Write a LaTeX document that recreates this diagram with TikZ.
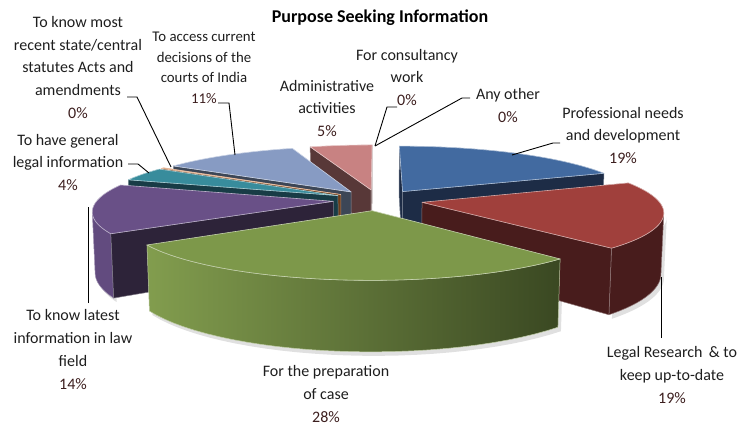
\documentclass[tikz,border=0pt]{standalone}
\usepackage{fontspec}
\setmainfont{Carlito}
\definecolor{bTop}{RGB}{66,106,160}
\definecolor{bSide}{RGB}{29,44,70}
\definecolor{rTop}{RGB}{160,64,60}
\definecolor{rSide}{RGB}{72,28,28}
\definecolor{gTop}{RGB}{125,152,74}
\definecolor{gSideL}{RGB}{130,157,78}
\definecolor{gSideR}{RGB}{58,72,34}
\definecolor{pTop}{RGB}{105,80,135}
\definecolor{pOut}{RGB}{98,75,127}
\definecolor{pSide}{RGB}{45,35,57}
\definecolor{tTop}{RGB}{56,140,156}
\definecolor{tSide}{RGB}{24,60,70}
\definecolor{lTop}{RGB}{135,155,195}
\definecolor{lSide}{RGB}{60,70,86}
\definecolor{kTop}{RGB}{200,130,130}
\definecolor{kSide}{RGB}{88,56,56}
\definecolor{oTop}{RGB}{200,110,50}
\definecolor{oSide}{RGB}{110,60,25}
\definecolor{txt}{RGB}{30,30,30}
\definecolor{pct}{RGB}{60,30,30}
\newcommand\slicetop[4]{%
 \path[#1] ({PX(0,0,0,#2)},{PY(0,0,0,#2)}) -- plot[variable=\u,domain=0:1,samples=40] ({PX(#3+\u*(#4-#3),1,0,#2)},{PY(#3+\u*(#4-#3),1,0,#2)}) -- cycle;}
\newcommand\sliceface[3]{%
 \path[#1] ({PX(0,0,0,#2)},{PY(0,0,0,#2)}) -- ({PX(#3,1,0,#2)},{PY(#3,1,0,#2)}) -- ({PX(#3,1,-0.26,#2)},{PY(#3,1,-0.26,#2)}) -- ({PX(0,0,-0.26,#2)},{PY(0,0,-0.26,#2)}) -- cycle;}
\newcommand\sliceside[4]{%
 \path[#1] plot[variable=\u,domain=0:1,samples=30] ({PX(#3+\u*(#4-#3),1,0,#2)},{PY(#3+\u*(#4-#3),1,0,#2)}) -- plot[variable=\u,domain=0:1,samples=30] ({PX(#4-\u*(#4-#3),1,-0.26,#2)},{PY(#4-\u*(#4-#3),1,-0.26,#2)}) -- cycle;}
\begin{document}
\begin{tikzpicture}[x=1pt,y=-1pt,
 declare function={
  WX(\ta,\rr,\ph)=0.19*sin(\ph)+(\rr)*sin(\ta);
  WY(\ta,\rr,\ph)=0.19*cos(\ph)+(\rr)*cos(\ta);
  WW(\ta,\rr,\zz,\ph)=6.2+WY(\ta,\rr,\ph)*0.9724-0.2331*(\zz);
  PX(\ta,\rr,\zz,\ph)=378+1463*WX(\ta,\rr,\ph)/WW(\ta,\rr,\zz,\ph);
  PY(\ta,\rr,\zz,\ph)=200-1463*(WY(\ta,\rr,\ph)*0.2331+0.9724*(\zz))/WW(\ta,\rr,\zz,\ph);
 },
 lab/.style={align=center, font=\fontsize{16}{22.8}\selectfont, text=txt, inner sep=0pt},
 leader/.style={draw=black, line width=0.9pt},
 topf/.style={fill=#1, draw=white!55!#1, line width=0.6pt, line join=round},
 sidef/.style={fill=#1, draw=white!40!#1, line width=0.5pt, line join=round},
 shadowf/.style={fill=black, opacity=0.12}]
\useasboundingbox (0,0) rectangle (739,426);
% soft shadows
\begin{scope}[shift={(3,4)}]
\sliceside{shadowf}{262.8}{237.6}{262}
\sliceside{shadowf}{187.2}{136.8}{237.6}
\sliceside{shadowf}{102.6}{101.4}{136.8}
\end{scope}
% pink (administrative)
\sliceface{sidef=kSide}{351}{342}
\sliceface{sidef=kSide!80!white}{351}{360}
\slicetop{topf=kTop}{351}{342}{360}
% light blue (courts)
\sliceface{sidef=lSide}{322.2}{302.4}
\slicetop{topf=lTop}{322.2}{302.4}{342}
% orange sliver (statutes)
\sliceface{sidef=oSide}{302.4}{301.9}
\slicetop{topf=oTop}{302.4}{301.9}{302.9}
% teal (general legal info)
\sliceface{sidef=tSide}{295.2}{288}
\slicetop{topf=tTop}{295.2}{288}{302.4}
% blue (professional needs)
\sliceface{sidef=bSide}{34.2}{0}
\sliceface{sidef=bSide}{34.2}{68.4}
\slicetop{topf=bTop}{34.2}{0}{68.4}
% purple (latest information)
\sliceside{sidef=pOut}{262.8}{237.6}{259}
\sliceface{sidef=pSide}{262.8}{237.6}
\slicetop{topf=pTop}{262.8}{237.6}{288}
% red (legal research)
\sliceside{sidef=rSide}{102.6}{101.4}{136.8}
\sliceface{sidef=rSide}{102.6}{136.8}
\slicetop{topf=rTop}{102.6}{68.4}{136.8}
% green (preparation of case)
\sliceside{left color=gSideL, right color=gSideR, draw=white!50!gTop, line width=0.5pt}{187.2}{136.8}{237.6}
\slicetop{topf=gTop}{187.2}{136.8}{237.6}
% title
\node[font=\fontsize{18}{20}\selectfont\bfseries, text=black, inner sep=0pt] (title) at (380,18) {Purpose Seeking Information};
% labels
\node[lab] (statutes) at (78,67.5) {To know most\\recent state/central\\statutes Acts and\\amendments\\\textcolor{pct}{0\%}};
\node[lab, font=\fontsize{14.8}{20.5}\selectfont] (courts) at (204,68) {To access current\\decisions of the\\courts of India\\\textcolor{pct}{11\%}};
\node[lab] (admin) at (327,108.5) {Administrative\\activities\\\textcolor{pct}{5\%}};
\node[lab] (consult) at (407,77.5) {For consultancy\\work\\\textcolor{pct}{0\%}};
\node[lab] (other) at (508,105.5) {Any other\\\textcolor{pct}{0\%}};
\node[lab] (prof) at (623,135.5) {Professional needs\\and development\\\textcolor{pct}{19\%}};
\node[lab] (legal) at (672,375) {Legal Research \,\& to\\keep up-to-date\\\textcolor{pct}{19\%}};
\node[lab] (prep) at (326,394) {For the preparation\\of case\\\textcolor{pct}{28\%}};
\node[lab] (latest) at (73,349.5) {To know latest\\information in law\\field\\\textcolor{pct}{14\%}};
\node[lab] (general) at (68,162.5) {To have general\\legal information\\\textcolor{pct}{4\%}};
% leader coordinates
\coordinate (s1) at (127,97); \coordinate (s2) at (137,97); \coordinate (s3) at (171,167);
\coordinate (c1) at (218,103); \coordinate (c2) at (229,103); \coordinate (c3) at (235,155);
\coordinate (k1) at (397,107); \coordinate (k2) at (387,107); \coordinate (k3) at (375,146);
\coordinate (o1) at (470,98); \coordinate (o2) at (462,98);
\coordinate (p1) at (560,143); \coordinate (p2) at (553,143); \coordinate (p3) at (512,155);
\coordinate (r1) at (661,338); \coordinate (r2) at (661,277);
\coordinate (t1) at (88,303); \coordinate (t2) at (88,207);
\coordinate (g1) at (128,164); \coordinate (g2) at (138,164); \coordinate (g3) at (149,173);
\draw[leader] (s1) -- (s2) -- (s3);
\draw[leader] (c1) -- (c2) -- (c3);
\draw[leader] (k1) -- (k2) -- (k3);
\draw[leader] (o1) -- (o2) -- (k3);
\draw[leader] (p1) -- (p2) -- (p3);
\draw[leader] (r1) -- (r2);
\draw[leader] (t1) -- (t2);
\draw[leader] (g1) -- (g2) -- (g3);
\end{tikzpicture}
\end{document}
